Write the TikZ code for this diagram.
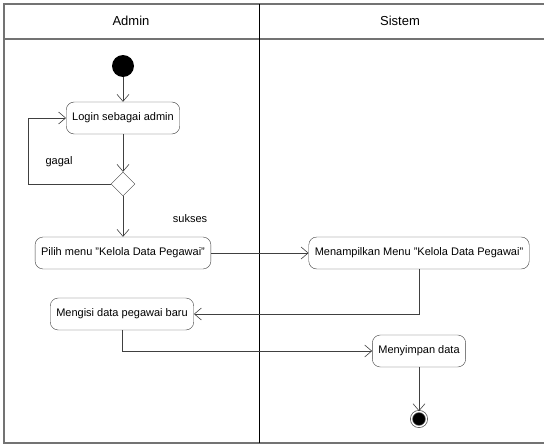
\documentclass[tikz,border=0pt]{standalone}
\usepackage{fontspec}
\setmainfont{Liberation Sans}
\usetikzlibrary{shapes.geometric,arrows.meta}

\begin{document}
\begin{tikzpicture}[x=1pt,y=-1pt,
		activity/.style={draw=black!75, fill=white, rounded corners=8pt, minimum height=32pt, inner xsep=6pt, font=\fontsize{11}{13}\selectfont},
		initial/.style={circle, fill=black, inner sep=0pt, minimum size=22pt},
		final/.style={circle, draw=black!70, fill=black, inner sep=0pt, minimum size=15pt, line width=0.7pt, double=white, double distance=1.4pt},
		decision/.style={diamond, draw=black!75, fill=white, inner sep=0pt, minimum size=24pt},
		flow/.style={draw=black!75, line width=0.6pt, -{Straight Barb[length=7pt,width=12pt]}},
		lane/.style={draw=black!55, line width=1.3pt},
		guard/.style={font=\fontsize{11}{13}\selectfont}]
		\useasboundingbox (0,0) rectangle (544,447);

		% swimlanes
		\draw[lane] (544,4) -- (4,4) -- (4,443) -- (544,443);
		\draw[lane] (4,39) -- (544,39);
		\draw[line width=1pt] (259,4) -- (259,443);
		\draw (131,21) node [font=\fontsize{13}{15}\selectfont] (admin) {Admin};
		\draw (400,21) node [font=\fontsize{13}{15}\selectfont] (sistem) {Sistem};

		\draw (123,66) node [initial] (start) {};
		\draw (123,118) node [activity] (login) {Login sebagai admin};
		\draw (123,184) node [decision] (cek) {};
		\draw (123,253) node [activity] (pilih) {Pilih menu "Kelola Data Pegawai"};
		\draw (419,253) node [activity] (tampil) {Menampilkan Menu "Kelola Data Pegawai"};
		\draw (122,314) node [activity] (isi) {Mengisi data pegawai baru};
		\draw (419,351) node [activity] (simpan) {Menyimpan data};
		\draw (419,419) node [final] (end) {};
		\coordinate (balik) at (28,184);

		\draw[flow] (start) -- (login);
		\draw[flow] (login) -- (cek);
		\draw[flow] (cek.west) -- (balik) |- (login.west);
		\draw[flow] (cek) -- (pilih);
		\draw[flow] (pilih) -- (tampil);
		\draw[flow] (tampil.south) |- (isi.east);
		\draw[flow] (isi.south) |- (simpan.west);
		\draw[flow] (simpan) -- (end);

		\draw (59,162) node [guard] (gagal) {gagal};
		\draw (190,219) node [guard] (sukses) {sukses};
	\end{tikzpicture}
\end{document}
